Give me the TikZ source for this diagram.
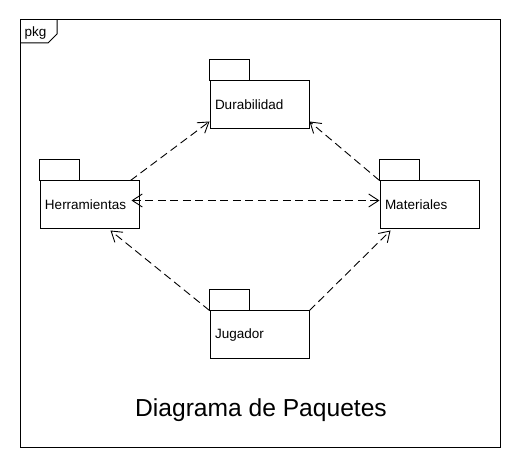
\documentclass[tikz,border=0pt]{standalone}
\usepackage{fontspec}
\setmainfont{Liberation Sans}
\usetikzlibrary{arrows.meta,calc}
\begin{document}
\begin{tikzpicture}[x=1pt,y=-1pt,
  pkgbody/.style={draw, line width=1pt, rectangle, inner xsep=5pt, inner ysep=0pt,
    text width=89pt, align=left, minimum height=48pt,
    font=\fontsize{13.5}{16}\selectfont},
  tabline/.style={draw, line width=1pt},
  dep/.style={line width=0.9pt, dash pattern=on 8pt off 4.5pt,
    -{Straight Barb[length=10pt,width=13pt,line width=0.9pt]}},
  depboth/.style={line width=0.9pt, dash pattern=on 8pt off 4.5pt,
    {Straight Barb[length=10pt,width=13pt,line width=0.9pt]}-{Straight Barb[length=10pt,width=13pt,line width=0.9pt]}}
]
\useasboundingbox[fill=white] (0,0) rectangle (520,470);
% frame
\draw[line width=1pt] (20,20) rectangle (500,448);
\draw[line width=1pt] (20,43) -- (48,43) -- (57,34) -- (57,20);
\node[anchor=base west, inner sep=0pt, font=\fontsize{13.5}{16}\selectfont] (pkglabel) at (24.5,37) {pkg};
% packages
\node[pkgbody] (dur) at (259.5,105) {Durabilidad};
\node[pkgbody] (her) at (89.5,205) {Herramientas};
\node[pkgbody] (mat) at (429.5,205) {Materiales};
\node[pkgbody] (jug) at (259.5,335) {Jugador};
\foreach \p in {dur,her,mat,jug}
  \draw[tabline] (\p.north west) rectangle ++(40,-21);
% dependencies
\draw[dep] ($(her.north east)+(-9,0)$) -- ($(dur.south west)+(0,-8)$);
\draw[dep] (mat.north west) -- ($(dur.south east)+(0,-8)$);
\draw[depboth] ($(her.east)+(-8,-4.5)$) -- ($(mat.west)+(0,-4.5)$);
\draw[dep] (jug.north west) -- ($(her.south west)+(71,1)$);
\draw[dep] (jug.north east) -- ($(mat.south west)+(11,1)$);
% title
\node[anchor=base, inner sep=0pt, font=\fontsize{24.6}{28}\selectfont] (title) at (261,417) {Diagrama de Paquetes};
\end{tikzpicture}
\end{document}
